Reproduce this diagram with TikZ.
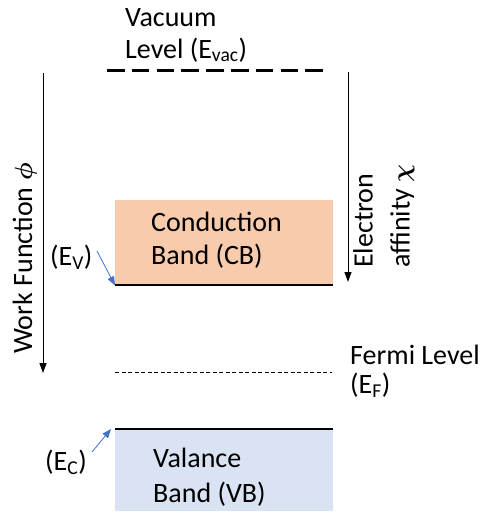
\documentclass[tikz,border=0pt]{standalone}
\usepackage{amsmath}
\usepackage{fontspec}
\setmainfont{Carlito}
\usetikzlibrary{arrows.meta}
\definecolor{cbfill}{HTML}{F8CBAD}
\definecolor{vbfill}{HTML}{DAE3F3}
\definecolor{ptr}{HTML}{4472C4}
\begin{document}
\begin{tikzpicture}[x=1pt,y=-1pt,
  lbl/.style={font=\fontsize{28}{33}\selectfont, align=left, inner sep=0pt},
  level/.style={line width=2pt},
  measure/.style={-{Triangle[length=10pt,width=7pt]}, line width=1pt},
  pointer/.style={ptr, -{Triangle[length=9pt,width=7pt]}, line width=0.8pt}]
\useasboundingbox (0,0) rectangle (483,517);
% bands
\node[fill=cbfill, minimum width=218pt, minimum height=85pt, inner sep=0pt, anchor=north west] (cb) at (115,200) {};
\node[fill=vbfill, minimum width=218pt, minimum height=82pt, inner sep=0pt, anchor=north west] (vb) at (115,429) {};
\draw[level] (cb.south west) -- (cb.south east);
\draw[level] (vb.north west) -- (vb.north east);
% vacuum level
\coordinate (vacL) at (107,70);
\coordinate (vacR) at (323,70);
\draw[line width=3pt, dash pattern=on 17.5pt off 7.3pt] (vacL) -- (vacR);
% fermi level
\coordinate (fL) at (115,372);
\coordinate (fR) at (332,372);
\draw[line width=1pt, dash pattern=on 4pt off 2.5pt] (fL) -- (fR);
% texts
\node[lbl, anchor=base west, font=\fontsize{28}{32}\selectfont] (vac) at (125,58) {Vacuum\\Level (E\textsubscript{vac})};
\node[lbl, anchor=base west] (cbt) at (151,264) {Conduction\\Band (CB)};
\node[lbl, anchor=base west, font=\fontsize{28}{35}\selectfont] (vbt) at (153,502) {Valance\\Band (VB)};
\node[lbl, anchor=base west, font=\fontsize{28}{29}\selectfont] (fermi) at (350,393) {Fermi Level\\(E\textsubscript{F})};
\node[lbl, anchor=base west] (ev) at (50,265) {(E\textsubscript{V})};
\node[lbl, anchor=base west] (ec) at (45,470) {(E\textsubscript{C})};
\node[lbl, rotate=90, anchor=base west] (wf) at (32,354) {Work Function $\boldsymbol{\phi}$};
\node[lbl, rotate=90, anchor=north west, font=\fontsize{28}{37}\selectfont] (ea) at (353,268) {Electron\\affinity $\boldsymbol{\chi}$};
% measurement arrows
\coordinate (wfTop) at (43,73);
\coordinate (wfBot) at (43,373);
\draw[measure] (wfTop) -- (wfBot);
\coordinate (eaTop) at (348,72);
\coordinate (eaBot) at (348,282);
\draw[measure] (eaTop) -- (eaBot);
% pointers
\coordinate (evStart) at (97,251);
\coordinate (ecStart) at (92,452);
\draw[pointer] (evStart) -- (cb.south west);
\draw[pointer] (ecStart) -- ([xshift=-4pt]vb.north west);
\end{tikzpicture}
\end{document}
